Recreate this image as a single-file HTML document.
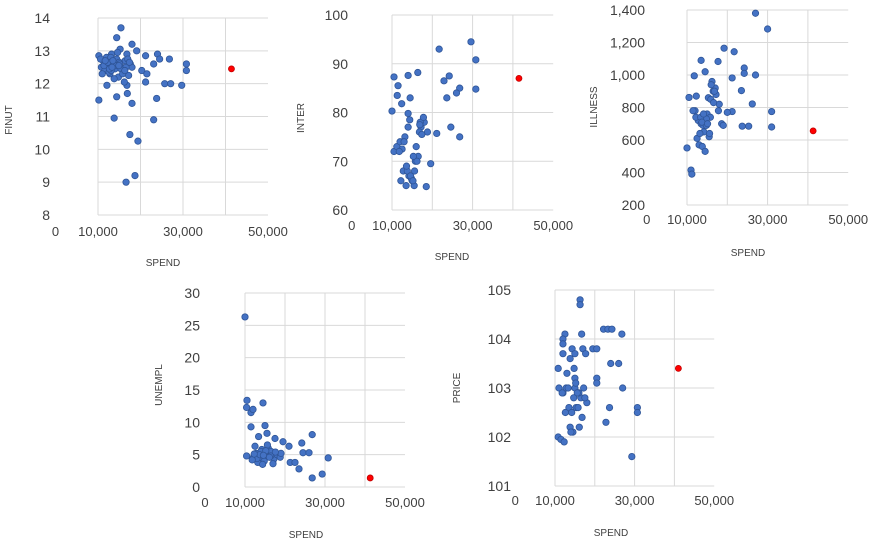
<!DOCTYPE html>
<html><head><meta charset="utf-8"><style>
html,body{margin:0;padding:0;background:#fff;width:888px;height:547px;overflow:hidden}
svg text{font-family:"Liberation Sans",sans-serif;fill:#404040}
</style></head><body>
<svg id="root" width="888" height="547" viewBox="0 0 888 547" xmlns="http://www.w3.org/2000/svg"></svg>
<script>
// ---- data: chart 1 FINUT vs SPEND
const finutSpend = [15400,14400,18000,19100,21200,24000,24500,26800,23100,30800,30800,20300,21500,21200,25700,27100,29700,12100,16800,10200,14400,23800,18000,16900,13800,23100,17500,19400,16600,18700,
 10200,10800,11200,11600,12000,12400,12800,13200,13600,14000,14400,14800,15200,15600,16000,16400,16800,17200,17600,18000,11000,12200,13000,13800,14600,15400,16200,10600,11800,12600,15000,17000,
 11400,12300,13100,14200,15100,15800,16600,17400,12700,13500,14900,16300,11700,13300];
const finutVal = [13.7,13.4,13.2,13.0,12.85,12.9,12.75,12.75,12.6,12.6,12.4,12.4,12.3,12.05,12.0,12.0,11.95,11.95,11.95,11.5,11.6,11.55,11.4,11.7,10.95,10.9,10.45,10.25,9.0,9.2,
 12.85,12.5,12.7,12.4,12.8,12.55,12.3,12.9,12.6,12.45,12.75,12.2,13.05,12.5,12.35,12.7,12.9,12.25,12.6,12.5,12.3,12.6,12.8,12.15,12.95,12.45,12.05,12.75,12.6,12.35,12.65,12.75,
 12.55,12.65,12.4,12.55,12.6,12.3,12.5,12.65,12.45,12.7,12.55,12.4,12.7,12.5];
const finutRed = [[41400,12.45]];
// chart 2 INTER
const interSpend = [29600,21700,30800,10500,14000,16400,24200,22900,26800,26000,30800,23600,11500,11300,14500,12400,10000,14000,21100,24600,26800,
 10500,11200,12000,12800,13500,14200,15000,15800,16500,17200,18000,18800,19600,12500,13200,14000,14800,15500,16200,17000,17800,13000,13800,14600,15300,16000,16800,12200,18500,11800,
 15600,16900,14400,15200,13600,17400];
const interVal = [94.5,93,90.8,87.3,87.6,88.2,87.5,86.5,85,84,84.8,83,85.5,83.5,83,81.8,80.3,79.8,75.7,77,75,
 72,73,74,68,65,67,66,70,71,77,78,76,69.5,72.5,75,77,66.5,65,70,78,79,74,68,67,71,73,76,66,64.8,72,68,
 77.5,78.5,66,69,75.5,70.5];
const interRed = [[41500,87]];
// chart 3 ILLNESS
const illSpend = [27000,30000,19200,21700,13500,17700,24200,24200,27000,11800,14500,21200,23500,10500,12300,26200,31000,31000,23700,25300,10000,11000,11200,21200,
 12000,12800,13500,14200,15000,15800,16500,17200,18000,12500,13200,14000,14800,15500,16200,17000,17800,18600,13000,13800,14500,15300,16000,16800,12200,14800,15600,11500,19000,20000,
 13400,14100,15900,16600,13700,15100];
const illVal = [1380,1283,1165,1143,1090,1083,1043,1010,1000,995,1020,982,904,862,870,822,775,680,685,685,551,415,390,775,
 780,720,700,650,760,740,900,880,820,610,640,690,730,620,960,920,780,700,570,560,530,860,940,900,740,690,640,780,690,770,
 740,760,850,830,710,700];
const illRed = [[41300,656]];
// chart 4 UNEMPL
const unSpend = [10000,10500,14500,10400,11500,12000,11500,15000,15500,13400,17500,19500,21000,24200,26800,24500,26000,21300,22500,23500,26800,29300,30800,10400,
 12000,12800,13500,14200,15000,15800,16500,17200,18000,18800,12500,13200,14000,14800,15600,16400,17000,19000,13000,14400,11800,
 13700,15200,16100,17600,14600,12300];
const unVal = [26.3,13.4,13,12.3,11.5,12,9.3,9.5,8.3,7.8,7.5,7,6.3,6.8,8.1,5.3,5.3,3.8,3.8,2.8,1.4,2,4.5,4.8,
 4.5,5.2,4.2,5.8,4.8,6,5.5,4.3,5,4.6,6.3,3.8,5.5,4.0,6.5,4.8,3.6,5.2,4.4,3.5,4.2,
 5.0,5.6,4.6,5.4,4.9,5.1];
const unRed = [[41300,1.4]];
// chart 5 PRICE
const prSpend = [16300,16300,12500,16700,12000,12000,22200,23300,24300,26800,14300,15000,17000,17700,19500,20500,12000,13800,24000,26000,10800,14800,20500,20500,27000,23700,22800,30700,30700,10800,11500,12300,29300,
 11000,12000,12800,13500,14200,15000,15800,16500,17200,18000,13000,13800,14500,15300,16000,16800,17500,14000,15000,15600,12600,11800,
 13300,14700,16100,15200,15800];
const prVal = [104.8,104.7,104.1,104.1,104.0,103.9,104.2,104.2,104.2,104.1,103.8,103.7,103.8,103.7,103.8,103.8,103.7,103.6,103.5,103.5,103.4,103.4,103.2,103.1,103.0,102.6,102.3,102.6,102.5,102.0,101.95,101.9,101.6,
 103.0,102.9,103.0,102.6,102.5,103.2,102.9,102.8,103.0,102.7,103.3,102.2,102.1,102.6,102.9,102.4,102.8,102.1,103.0,102.9,102.5,102.9,
 103.0,102.8,102.2,103.1,102.6];
const prRed = [[41000,103.4]];

const xTickLabels = ["0","10,000","30,000","50,000"];
const xTickValues = [0,10000,30000,50000];

const charts = [
 {id:"finut",title:"FINUT",xs:finutSpend,ys:finutVal,red:finutRed,ticks:[8,9,10,11,12,13,14],tickFmt:v=>String(v),
  x10:98,pxPer:42.5,yMinPx:215,yMaxPx:18,labX:50,xlabY:236,spendX:163,spendY:266,ttlX:12,ttlY:120},
 {id:"inter",title:"INTER",xs:interSpend,ys:interVal,red:interRed,ticks:[60,70,80,90,100],tickFmt:v=>String(v),
  x10:392,pxPer:40.3,yMinPx:210,yMaxPx:15,labX:348,xlabY:230,spendX:452,spendY:260,ttlX:304,ttlY:118},
 {id:"illness",title:"ILLNESS",xs:illSpend,ys:illVal,red:illRed,ticks:[200,400,600,800,1000,1200,1400],tickFmt:v=>v.toLocaleString("en-US"),
  x10:687,pxPer:40.3,yMinPx:205,yMaxPx:10,labX:645,xlabY:224,spendX:748,spendY:256,ttlX:597,ttlY:107},
 {id:"unempl",title:"UNEMPL",xs:unSpend,ys:unVal,red:unRed,ticks:[0,5,10,15,20,25,30],tickFmt:v=>String(v),
  x10:245,pxPer:40,yMinPx:487,yMaxPx:293,labX:200,xlabY:507,spendX:306,spendY:538,ttlX:162,ttlY:385},
 {id:"price",title:"PRICE",xs:prSpend,ys:prVal,red:prRed,ticks:[101,102,103,104,105],tickFmt:v=>String(v),
  x10:555,pxPer:39.8,yMinPx:486,yMaxPx:290,labX:511,xlabY:505,spendX:611,spendY:536,ttlX:460,ttlY:388}
];
const NS="http://www.w3.org/2000/svg";
const root=document.getElementById('root');
function mk(tag,attrs,parent){const e=document.createElementNS(NS,tag);for(const k in attrs)e.setAttribute(k,attrs[k]);parent.appendChild(e);return e;}
charts.forEach(c=>{
  const g=mk('g',{},root);
  
  
  const yMin=c.ticks[0],yMax=c.ticks[c.ticks.length-1];
  const xS=v=>c.x10+(v-10000)/10000*c.pxPer;
  const yS=v=>c.yMinPx-(v-yMin)/(yMax-yMin)*(c.yMinPx-c.yMaxPx);
  const right=xS(50000);
  c.ticks.forEach(t=>{
    const l=mk('line',{x1:c.x10,x2:right,y1:yS(t),y2:yS(t),stroke:'#d9d9d9','stroke-width':1},g);
    
    
    const tx=mk('text',{x:c.labX,y:yS(t)+5,'text-anchor':'end','font-size':14},g);
    tx.textContent=c.tickFmt(t);
    
    
  });
  [10000,20000,30000,40000].forEach(v=>{
    const l=mk('line',{x1:xS(v),x2:xS(v),y1:c.yMaxPx,y2:c.yMinPx,stroke:'#d9d9d9','stroke-width':1},g);
    
    
  });
  xTickLabels.forEach((lab,i)=>{
    const tx=mk('text',{x:xS(xTickValues[i]),y:c.xlabY,'text-anchor':'middle','font-size':13},g);
    tx.textContent=lab;
    
    
  });
  const sp=mk('text',{x:c.spendX,y:c.spendY,'text-anchor':'middle','font-size':10},g);
  sp.textContent='SPEND';
  
  
  const tt=mk('text',{x:c.ttlX,y:c.ttlY,'text-anchor':'middle','font-size':10,transform:`rotate(-90 ${c.ttlX} ${c.ttlY})`},g);
  tt.textContent=c.title;
  
  
  c.xs.forEach((x,i)=>{
    const p=mk('circle',{cx:xS(x),cy:yS(c.ys[i]),r:3.2,fill:'#4472C4',stroke:'#2F5597','stroke-width':0.8},g);
    
    
  });
  c.red.forEach(d=>{
    const p=mk('circle',{cx:xS(d[0]),cy:yS(d[1]),r:3,fill:'#FF0000',stroke:'#C00000','stroke-width':0.8},g);
    
    
  });
});
</script>
</body></html>
